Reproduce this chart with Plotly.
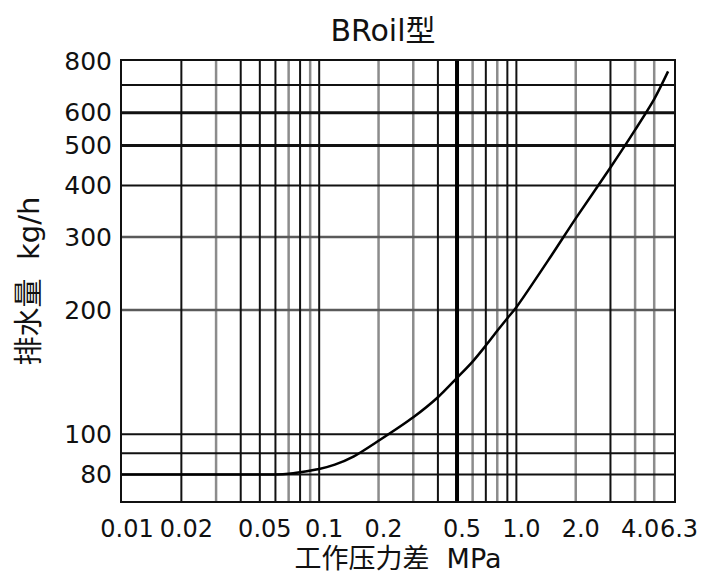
import math

import plotly.graph_objects as go

# discharge curve (pressure difference MPa -> kg/h)
pressure_mpa = [0.01, 0.03, 0.06, 0.07, 0.08, 0.1, 0.12, 0.15, 0.2, 0.3, 0.4,
                0.5, 0.6, 0.7, 0.8, 0.9, 1.0, 1.5, 2.0, 3.0, 4.0, 5.0, 5.88]
discharge_kgh = [80, 80, 80, 80.3, 81, 82.5, 84.5, 88.5, 96.5, 110, 123,
                 137, 150, 164, 178, 191, 203, 270, 333, 442, 545, 647, 755]

x_tick_values = [0.01, 0.02, 0.05, 0.1, 0.2, 0.5, 1.0, 2.0, 4.0, 6.3]
x_tick_labels = ["0.01", "0.02", "0.05", "0.1", "0.2", "0.5", "1.0", "2.0", "4.0", "6.3"]
y_tick_values = [80, 100, 200, 300, 400, 500, 600, 800]
y_tick_labels = ["80", "100", "200", "300", "400", "500", "600", "800"]

x_grid_dark = [0.02, 0.04, 0.05, 0.06, 0.08, 0.1, 0.4, 0.7, 0.9, 1.0, 3.0]
x_grid_gray = [0.03, 0.07, 0.09, 0.2, 0.3, 0.6, 0.8, 2.0, 4.0, 5.0]
x_grid_heavy = [0.5]
y_grid_dark = [80, 90, 100, 400, 700]
y_grid_gray = [200, 300]
y_grid_heavy = [500, 600]

X_MIN, X_MAX = 0.01, 6.3
Y_MIN, Y_MAX = 69, 800

NUM_FONT = "DejaVu Sans, Noto Sans CJK SC"


def _vlines(values):
    xs, ys = [], []
    for v in values:
        xs += [v, v, None]
        ys += [Y_MIN, Y_MAX, None]
    return xs, ys


def _hlines(values):
    xs, ys = [], []
    for v in values:
        xs += [X_MIN, X_MAX, None]
        ys += [v, v, None]
    return xs, ys


def _grid(xs, ys, color, width):
    return go.Scatter(x=xs, y=ys, mode="lines", hoverinfo="skip",
                      showlegend=False, line={"color": color, "width": width})


fig = go.Figure()
fig.add_trace(_grid(*_vlines(x_grid_gray), "#8c8c8c", 2.5))
fig.add_trace(_grid(*_hlines(y_grid_gray), "#5a5a5a", 2.5))
fig.add_trace(_grid(*_vlines(x_grid_dark), "#111111", 2))
fig.add_trace(_grid(*_hlines(y_grid_dark), "#111111", 2))
fig.add_trace(_grid(*_hlines(y_grid_heavy), "#111111", 3))
fig.add_trace(_grid(*_vlines(x_grid_heavy), "#000000", 4))
fig.add_trace(go.Scatter(x=pressure_mpa, y=discharge_kgh, mode="lines",
                         line_shape="spline", showlegend=False,
                         line={"color": "#000000", "width": 2.5, "smoothing": 0.8}))

fig.update_layout(
    width=709,
    height=574,
    margin={"l": 114, "r": 43, "t": 53, "b": 81},
    paper_bgcolor="white",
    plot_bgcolor="white",
    title={"text": "BRoil型", "x": 375 / 709, "xanchor": "center",
           "y": 1 - 22 / 574, "yanchor": "middle",
           "font": {"family": NUM_FONT, "size": 30, "color": "#111"}},
)
fig.update_xaxes(
    type="log",
    range=[math.log10(X_MIN), math.log10(X_MAX)],
    tickvals=x_tick_values,
    ticktext=x_tick_labels,
    tickangle=0,
    ticks="",
    ticklabelshift=5,
    ticklabelstandoff=5,
    tickfont={"family": NUM_FONT, "size": 24, "color": "#111"},
    showgrid=False,
    zeroline=False,
    showline=True,
    mirror=True,
    linecolor="#111",
    linewidth=2,
    automargin=False,
    title={"text": "工作压力差  MPa", "standoff": 5,
           "font": {"family": NUM_FONT, "size": 27, "color": "#111"}},
)
fig.update_yaxes(
    type="log",
    range=[math.log10(Y_MIN), math.log10(Y_MAX)],
    tickvals=y_tick_values,
    ticktext=y_tick_labels,
    ticks="",
    ticklabelstandoff=3,
    tickfont={"family": NUM_FONT, "size": 25, "color": "#111"},
    showgrid=False,
    zeroline=False,
    showline=True,
    mirror=True,
    linecolor="#111",
    linewidth=2,
    automargin=False,
    title={"text": "排水量  kg/h", "standoff": 16,
           "font": {"family": NUM_FONT, "size": 29, "color": "#111"}},
)

fig.write_html("out.html")
